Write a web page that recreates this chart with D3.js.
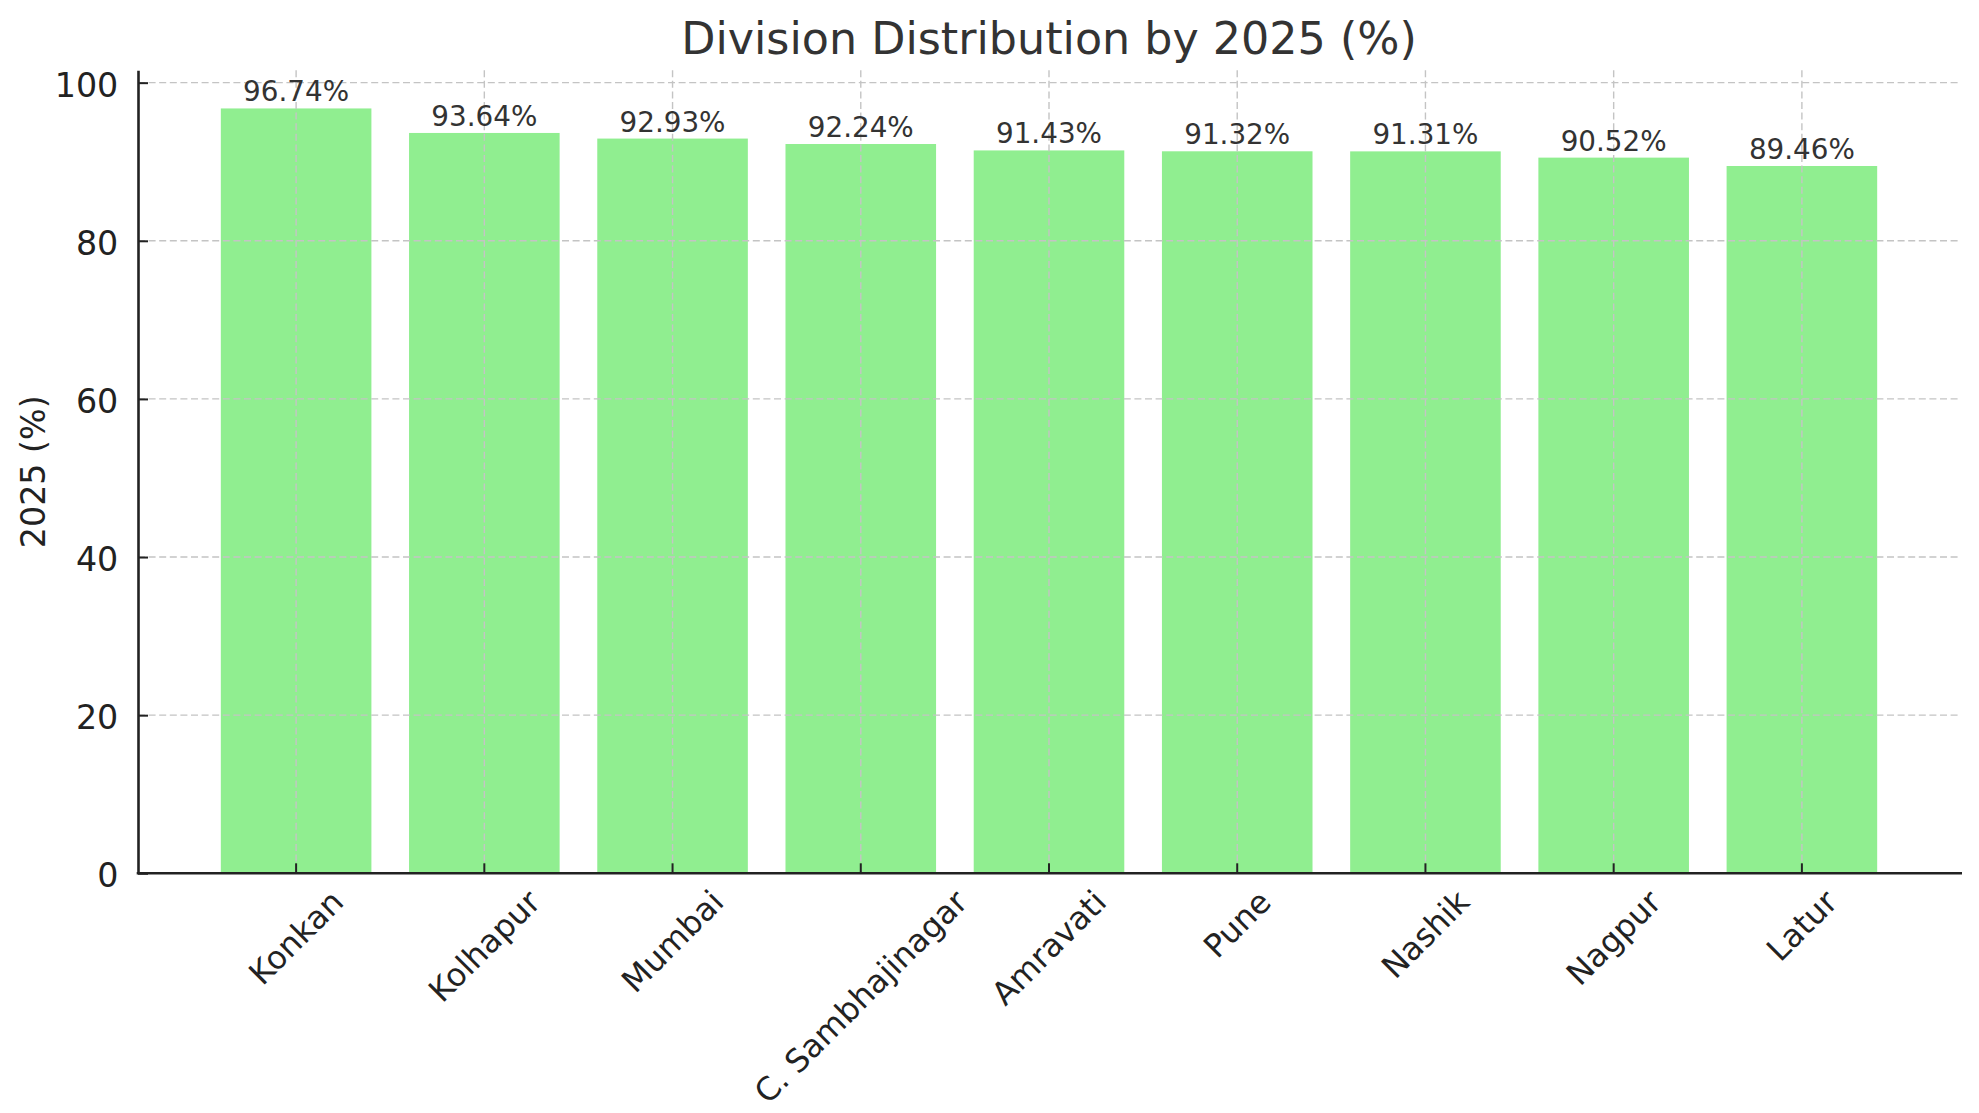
<!DOCTYPE html>
<html>
<head>
<meta charset="utf-8">
<script src="https://cdn.jsdelivr.net/npm/d3@7"></script>
<style>
  html, body { margin: 0; padding: 0; background: #ffffff; }
  svg { display: block; font-family: "DejaVu Sans", sans-serif; }
</style>
</head>
<body>
<svg id="chart" width="1979" height="1113"></svg>
<script>
// ---- data ----
const categories = ["Konkan", "Kolhapur", "Mumbai", "C. Sambhajinagar", "Amravati", "Pune", "Nashik", "Nagpur", "Latur"];
const values = [96.74, 93.64, 92.93, 92.24, 91.43, 91.32, 91.31, 90.52, 89.46];
const yTicks = [0, 20, 40, 60, 80, 100];
const titleText = "Division Distribution by 2025 (%)";
const yLabelText = "2025 (%)";

// ---- layout ----
const plotL = 138, plotR = 1960, plotT = 70.2, plotB = 873.3;
const svg = d3.select("#chart");

const x = d3.scaleBand().domain(categories).range([plotL, plotR]).paddingInner(0.2).paddingOuter(0.44);
const yMax = d3.max(values) * 1.05;
const y = d3.scaleLinear().domain([0, yMax]).range([plotB, plotT]);

const tickFont = 33.3, xTickFont = 32, valueFont = 27.8, titleFont = 44.4, labelFont = 33.3;
const textDark = "#222222";

// bars
svg.append("g").selectAll("rect").data(values).join("rect")
  .attr("x", (d, i) => x(categories[i]))
  .attr("y", d => y(d))
  .attr("width", x.bandwidth())
  .attr("height", d => y(0) - y(d))
  .attr("fill", "#90EE90");

// grid (drawn above bars)
const grid = svg.append("g").attr("stroke", "#c4c4c4").attr("stroke-width", 1.4).attr("stroke-dasharray", "7,3.6").attr("fill", "none");
grid.selectAll("line.h").data(yTicks).join("line").attr("class", "h")
  .attr("x1", plotL).attr("x2", plotR)
  .attr("y1", d => y(d)).attr("y2", d => y(d));
grid.selectAll("line.v").data(categories).join("line").attr("class", "v")
  .attr("x1", d => x(d) + x.bandwidth() / 2).attr("x2", d => x(d) + x.bandwidth() / 2)
  .attr("y1", plotT).attr("y2", plotB);

// y axis
const yAxis = d3.axisLeft(y).tickValues(yTicks).tickSizeInner(-10).tickSizeOuter(0).tickPadding(19.7);
const gy = svg.append("g").attr("transform", `translate(${plotL},0)`).call(yAxis);
gy.select(".domain").attr("stroke", "#222").attr("stroke-width", 2.6);
gy.selectAll(".tick line").attr("stroke", "#222").attr("stroke-width", 2);
gy.selectAll(".tick text").attr("font-size", tickFont).attr("fill", textDark)
  .attr("font-family", "DejaVu Sans").attr("dy", null).attr("y", 0)
  .attr("dominant-baseline", "auto").attr("transform", "translate(0,13.6)");

// x axis
const xAxis = d3.axisBottom(x).tickSizeInner(-10).tickSizeOuter(0).tickFormat(() => "");
const gx = svg.append("g").attr("transform", `translate(0,${plotB})`).call(xAxis);
gx.select(".domain").attr("stroke", "#222").attr("stroke-width", 2.6).attr("d", `M${plotL - 1.3},0H${plotR + 2}`);
gx.selectAll(".tick line").attr("stroke", "#222").attr("stroke-width", 2);
gx.selectAll(".tick text").remove();

// rotated x labels (matplotlib style: rotation 45, ha center, va top)
const xl = svg.append("g");
const pad = 9.7;
const boxH = 1.164 * xTickFont;
categories.forEach(c => {
  const t = xl.append("text").text(c)
    .attr("font-size", xTickFont).attr("fill", textDark)
    .attr("text-anchor", "middle").attr("x", 0).attr("y", 0.346 * xTickFont);
  const w = t.node().getComputedTextLength();
  const half = (w + boxH) / (2 * Math.SQRT2);
  const cx = x(c) + x.bandwidth() / 2;
  const cy = plotB + pad + half;
  t.attr("transform", `translate(${cx},${cy}) rotate(-45)`);
});

// value labels
svg.append("g").selectAll("text").data(values).join("text")
  .attr("x", (d, i) => x(categories[i]) + x.bandwidth() / 2)
  .attr("y", d => y(d) - 7)
  .attr("text-anchor", "middle")
  .attr("font-size", valueFont).attr("fill", "#333333")
  .text(d => d.toFixed(2) + "%");

// title
svg.append("text").attr("x", (plotL + plotR) / 2).attr("y", 54.3)
  .attr("text-anchor", "middle").attr("font-size", titleFont).attr("fill", "#333333")
  .text(titleText);

// y label
svg.append("text").attr("transform", `translate(45,${(plotT + plotB) / 2}) rotate(-90)`)
  .attr("text-anchor", "middle").attr("font-size", labelFont).attr("fill", textDark)
  .text(yLabelText);
</script>
</body>
</html>
